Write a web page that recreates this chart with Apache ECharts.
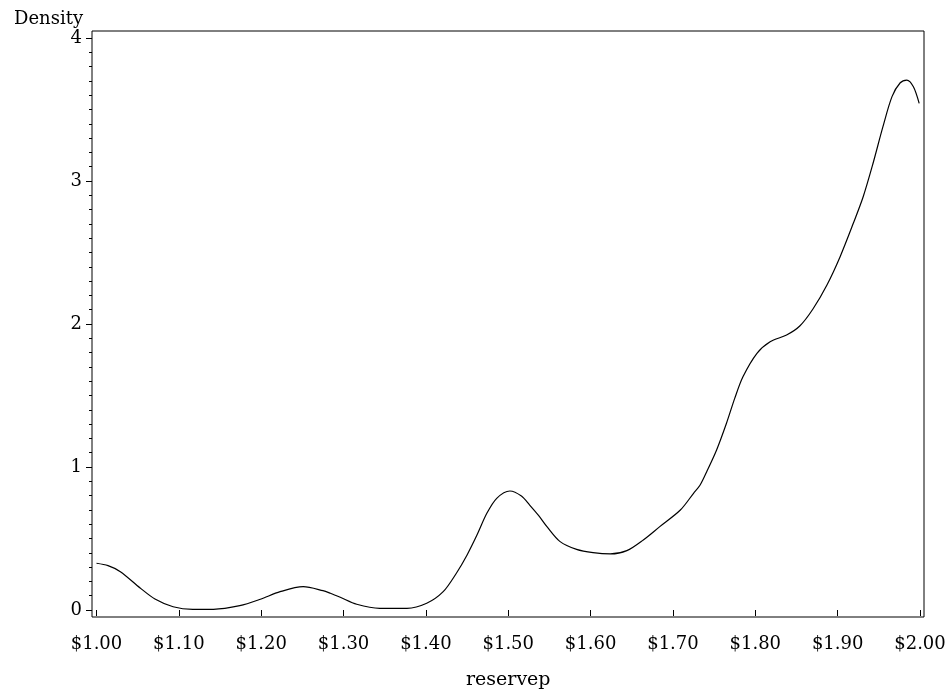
<!DOCTYPE html>
<html>
<head>
<meta charset="utf-8">
<script src="https://cdn.jsdelivr.net/npm/echarts@6/dist/echarts.min.js"></script>
<style>
  html, body { margin: 0; padding: 0; background: #fff; }
  #chart { width: 948px; height: 694px; }
</style>
</head>
<body>
<div id="chart"></div>
<script>
// Price grid (reservep) and kernel density
const reservep = [
  1.000, 1.014, 1.029, 1.053, 1.071, 1.093, 1.117, 1.142, 1.174, 1.199,
  1.223, 1.251, 1.275, 1.284, 1.296, 1.316, 1.344, 1.377, 1.401, 1.421,
  1.437, 1.450, 1.462, 1.474, 1.486, 1.502, 1.516, 1.526, 1.537, 1.547, 1.563,
  1.583, 1.603, 1.624, 1.644, 1.664, 1.684, 1.709, 1.725, 1.733, 1.741,
  1.753, 1.765, 1.775, 1.785, 1.802, 1.818, 1.838, 1.854, 1.870, 1.887,
  1.903, 1.919, 1.931, 1.943, 1.955, 1.966, 1.976, 1.984, 1.992, 1.999
];
const density = [
  0.327, 0.310, 0.268, 0.154, 0.077, 0.023, 0.005, 0.005, 0.030, 0.075,
  0.128, 0.163, 0.135, 0.117, 0.089, 0.040, 0.012, 0.012, 0.047, 0.128,
  0.257, 0.385, 0.524, 0.676, 0.781, 0.832, 0.797, 0.734, 0.660, 0.583, 0.478,
  0.424, 0.401, 0.392, 0.415, 0.490, 0.583, 0.699, 0.816, 0.874, 0.967,
  1.119, 1.306, 1.480, 1.631, 1.795, 1.876, 1.923, 1.986, 2.105, 2.273,
  2.471, 2.704, 2.890, 3.124, 3.380, 3.590, 3.687, 3.706, 3.659, 3.543
];
const yTicks = [0, 1, 2, 3, 4];
const xTickMin = 1.0, xTickMax = 2.0, xTickStep = 0.1;

const FONT = 'DejaVu Serif';
const chart = echarts.init(document.getElementById('chart'), null, { renderer: 'canvas' });

chart.setOption({
  backgroundColor: '#fff',
  animation: false,
  title: {
    text: 'Density',
    left: 9, top: 5,
    textStyle: { fontFamily: FONT, fontSize: 18, fontWeight: 'normal', color: '#000' }
  },
  grid: [
    { left: 92, top: 31, width: 832, height: 586, show: true, borderColor: '#000', borderWidth: 1,
      backgroundColor: 'transparent', outerBoundsMode: 'none', containLabel: false },
    { left: 96.5, top: 38, width: 823.5, height: 572, show: false, outerBoundsMode: 'none', containLabel: false }
  ],
  xAxis: [
    { gridIndex: 0, type: 'value', min: 0, max: 1, show: false },
    {
      gridIndex: 1, type: 'value', min: xTickMin, max: xTickMax, interval: xTickStep,
      offset: 7,
      name: 'reservep', nameLocation: 'middle', nameGap: 54,
      nameTextStyle: { fontFamily: FONT, fontSize: 19, color: '#000' },
      axisLine: { show: false },
      axisTick: { show: true, length: 6, lineStyle: { color: '#000', width: 1 } },
      axisLabel: { margin: 18, fontFamily: FONT, fontSize: 18, color: '#000',
        showMinLabel: true, showMaxLabel: true, hideOverlap: false,
        formatter: v => '$' + v.toFixed(2) },
      splitLine: { show: false }
    }
  ],
  yAxis: [
    { gridIndex: 0, type: 'value', min: 0, max: 1, show: false },
    {
      gridIndex: 1, type: 'value', min: yTicks[0], max: yTicks[yTicks.length - 1], interval: 1,
      offset: 4.5,
      axisLine: { show: false },
      axisTick: { show: true, length: 6, lineStyle: { color: '#000', width: 1 } },
      minorTick: { show: true, splitNumber: 10, length: 3, lineStyle: { color: '#000', width: 1 } },
      axisLabel: { margin: 10, fontFamily: FONT, fontSize: 18, color: '#000' },
      splitLine: { show: false }
    }
  ],
  series: [{
    type: 'line',
    xAxisIndex: 1, yAxisIndex: 1,
    data: reservep.map((x, i) => [x, density[i]]),
    smooth: 0.3,
    showSymbol: false,
    lineStyle: { color: '#000', width: 1.2 }
  }]
});
</script>
</body>
</html>
